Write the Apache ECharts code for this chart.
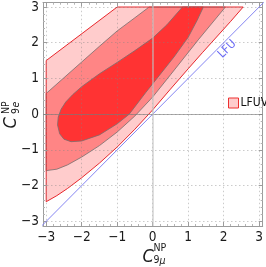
<!DOCTYPE html>
<html><head><meta charset="utf-8">
<script src="https://cdn.jsdelivr.net/npm/echarts@6/dist/echarts.min.js"></script>
<style>html,body{margin:0;padding:0;background:#fff}#c{width:266px;height:267px}</style>
</head><body><div id="c"></div>
<script>
// ---- data ----
// 3 sigma region (outer, light)
const region3 = [[-3,-2.45],[-3,1.5],[-1,3],[2.55,3],[2.2,2.6],[1.8,2.16],[1.4,1.72],[1.0,1.27],[0.5,0.7],[0,0.12],[-0.5,-0.42],[-1.0,-0.92],[-1.5,-1.37],[-2.0,-1.78],[-2.4,-2.08],[-2.7,-2.28],[-3,-2.45]];
// 2 sigma region (middle)
const region2Upper = [[-3,0.58],[-2.5,1.02],[-2.0,1.46],[-1.5,1.9],[-1.0,2.33],[-0.5,2.7],[-0.1,3.0]];
const region2Lower = [[2.05,3],[1.7,2.58],[1.3,2.1],[0.9,1.6],[0.5,1.1],[0,0.48],[-0.5,-0.05],[-1.0,-0.5],[-1.5,-0.88],[-2.0,-1.2],[-2.4,-1.42],[-2.7,-1.54],[-3,-1.58]];
// 1 sigma region (inner)
const region1 = [[-2.68,-0.3],[-2.66,-0.08],[-2.58,0.14],[-2.45,0.34],[-2.25,0.55],[-2.0,0.77],[-1.5,1.13],[-1.0,1.45],[-0.5,1.78],[0,2.13],[0.4,2.5],[0.84,3.0],[1.43,3.0],[1.25,2.62],[1.0,2.15],[0.6,1.6],[0.2,1.1],[-0.2,0.6],[-0.66,0.0],[-1.0,-0.27],[-1.5,-0.58],[-2.0,-0.75],[-2.3,-0.77],[-2.5,-0.7],[-2.62,-0.55],[-2.68,-0.3]];
// LFU line y = x
const lfuX = [-3.3, 3.3];
const tickValues = [-3,-2,-1,0,1,2,3];
const legendName = 'LFUV';
const lfuLabel = 'LFU';
const lfuLabelAt = [2.1, 1.82];

// ---- layout / style ----
const FONT = '"Liberation Sans Narrow","Arial Narrow","DejaVu Sans Condensed","Liberation Sans",sans-serif';
const X_RANGE = [-3.09, 3.10];
const Y_RANGE = [-3.13, 3.12];
const frameColor = '#9c9c9c';

const fmt = v => {
  const r = Math.round(v);
  if (Math.abs(v - r) > 1e-6 || tickValues.indexOf(r) < 0) return '';
  return r < 0 ? '\u2212' + (-r) : String(r);
};

function axisBase(extra) {
  return Object.assign({
    type: 'value', z: 3,
    axisLine: {show: true, onZero: false, lineStyle: {color: frameColor, width: 1}},
    axisTick: {show: true, inside: true, length: 4, lineStyle: {color: frameColor}},
    minorTick: {show: true, splitNumber: 5, length: 2, lineStyle: {color: '#b4b4b4'}},
    splitLine: {show: false},
    axisLabel: {show: false}
  }, extra);
}
const gridLine = {show: true, lineStyle: {color: 'rgba(130,130,130,0.42)', width: 1, type: [1.5, 2.5]}};
const labelStyle = {show: true, formatter: fmt, color: '#1a1a1a', fontSize: 13.5, fontFamily: FONT};

function polygonSeries(name, pts, fill, stroke, z) {
  return {
    type: 'custom', name: name, z: z, silent: true, clip: true,
    xAxisIndex: 0, yAxisIndex: 0,
    data: [[0, 0]], encode: {x: 0, y: 1},
    renderItem: function (params, api) {
      return {
        type: 'polygon',
        shape: {points: pts.map(p => api.coord(p))},
        style: {fill: fill, stroke: stroke, lineWidth: 1}
      };
    }
  };
}

const chart = echarts.init(document.getElementById('c'), null, {renderer: 'canvas'});
chart.setOption({
  animation: false,
  backgroundColor: '#ffffff',
  grid: {left: 43, right: 0.5, top: 1, bottom: 41, containLabel: false},
  xAxis: [
    axisBase({min: X_RANGE[0], max: X_RANGE[1], position: 'bottom',
      axisLabel: Object.assign({margin: 4}, labelStyle), splitLine: gridLine}),
    axisBase({min: X_RANGE[0], max: X_RANGE[1], position: 'top'})
  ],
  yAxis: [
    axisBase({min: Y_RANGE[0], max: Y_RANGE[1], position: 'left',
      axisLabel: Object.assign({margin: 4}, labelStyle), splitLine: gridLine}),
    axisBase({min: Y_RANGE[0], max: Y_RANGE[1], position: 'right'})
  ],
  legend: {
    data: [{name: legendName, icon: 'rect', itemStyle: {color: '#ffcccc', borderColor: '#ee3030', borderWidth: 1}}],
    left: 228, top: 97, padding: 0, itemWidth: 10, itemHeight: 10, selectedMode: false,
    textStyle: {fontSize: 12, color: '#111', fontFamily: FONT, padding: [0, 0, 0, -3]}
  },
  series: [
    polygonSeries(legendName, region3, '#ffcccc', 'none', 1),
    polygonSeries('2sigma', region2Upper.concat(region2Lower), '#ff8585', 'rgba(120,110,110,0.8)', 1),
    polygonSeries('1sigma', region1, '#ff3333', 'rgba(120,110,110,0.8)', 1),
    polygonSeries('3sigma-edge', region3, 'none', '#e8282d', 2),
    {
      type: 'line', name: 'LFU', z: 4, silent: true, clip: true,
      data: lfuX.map(x => [x, x]), showSymbol: false, symbol: 'none',
      lineStyle: {color: '#8585f2', width: 1},
      markLine: {
        silent: true, symbol: 'none', label: {show: false},
        data: [
          {yAxis: 0, lineStyle: {color: 'rgba(120,120,120,0.6)', width: 1, type: 'solid'}},
          {xAxis: 0, lineStyle: {color: 'rgba(195,195,195,0.55)', width: 2, type: 'solid'}}
        ]
      }
    }
  ]
});

const lp = chart.convertToPixel({gridIndex: 0}, lfuLabelAt);
chart.setOption({
  graphic: [
    // x axis title  C^{NP}_{9 mu}
    {type: 'text', x: 142.5, y: 257.5, style: {text: 'C', font: 'italic 18px ' + FONT, fill: '#1a1a1a', textAlign: 'left', textVerticalAlign: 'middle'}},
    {type: 'text', x: 153.5, y: 248, style: {text: 'NP', font: '10.5px ' + FONT, fill: '#1a1a1a', textAlign: 'left', textVerticalAlign: 'middle'}},
    {type: 'text', x: 153.5, y: 260.5, style: {text: '9', font: '10.5px ' + FONT, fill: '#1a1a1a', textAlign: 'left', textVerticalAlign: 'middle'}},
    {type: 'text', x: 159.5, y: 261, style: {text: '\u03bc', font: 'italic 10.5px ' + FONT, fill: '#1a1a1a', textAlign: 'left', textVerticalAlign: 'middle'}},
    // y axis title  C^{NP}_{9 e}
    {type: 'group', x: 11.5, y: 128.5, rotation: Math.PI / 2, children: [
      {type: 'text', x: 0, y: 0, style: {text: 'C', font: 'italic 18px ' + FONT, fill: '#1a1a1a', textAlign: 'left', textVerticalAlign: 'middle'}},
      {type: 'text', x: 14.5, y: -5, style: {text: 'NP', font: '10.5px ' + FONT, fill: '#1a1a1a', textAlign: 'left', textVerticalAlign: 'middle'}},
      {type: 'text', x: 14.5, y: 4.5, style: {text: '9', font: '10.5px ' + FONT, fill: '#1a1a1a', textAlign: 'left', textVerticalAlign: 'middle'}},
      {type: 'text', x: 21, y: 4.5, style: {text: 'e', font: 'italic 10.5px ' + FONT, fill: '#1a1a1a', textAlign: 'left', textVerticalAlign: 'middle'}}
    ]},
    // LFU label along the diagonal
    {type: 'text', x: lp[0], y: lp[1], rotation: Math.PI / 4, z: 10,
      style: {text: lfuLabel, font: '12px ' + FONT, fill: '#6a6af5', textAlign: 'center', textVerticalAlign: 'middle'}}
  ]
});
</script>
</body></html>
